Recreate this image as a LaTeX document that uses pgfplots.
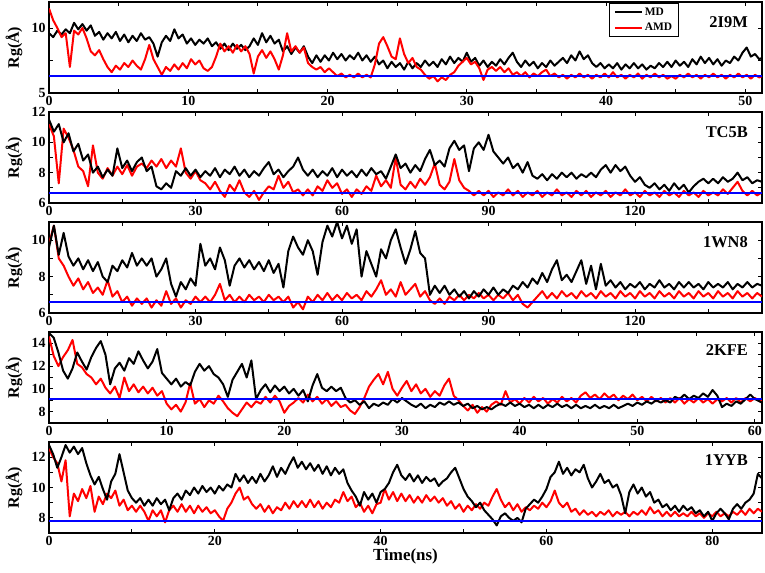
\documentclass[border=0pt]{standalone}
\usepackage{fontspec}
\setmainfont{Liberation Serif}
\usepackage{pgfplots}
\pgfplotsset{compat=1.18}
\tikzset{plab/.style={anchor=east, font=\bfseries\fontsize{16.5}{16.5}\selectfont}}
\pgfplotsset{
  panel/.style={
    scale only axis, width=713bp, height=91bp, anchor=north west,
    axis line style={line width=1.3bp},
    tick align=inside,
    major tick length=4bp, minor tick length=4bp,
    every tick/.style={line width=1bp, black},
    tick label style={font=\bfseries\fontsize{14}{14}\selectfont},
    /pgf/number format/assume math mode=true,
    ylabel={Rg(Å)},
    every axis y label/.style={at={(axis description cs:-0.049,0.5)}, rotate=90, anchor=center, font=\bfseries\fontsize{16}{16}\selectfont},
    xmin=0, minor x tick num=1,
    every axis plot/.append style={line join=round},
  },
  mdline/.style={black, line width=2bp},
  amdline/.style={red, line width=2bp},
}
\begin{document}
\begin{tikzpicture}
\useasboundingbox (0,0) rectangle (765bp,-573bp);
% ---------------- Panel 1: 2I9M
\begin{axis}[panel, at={(49bp,-2bp)}, xmax=51.2, ymin=5, ymax=12, ytick={5,10}, minor ytick={7.5}, xtick distance=10,
  legend style={at={(0.786,0.99)}, anchor=north west, draw=black, line width=0.8bp, font=\bfseries\fontsize{11.5}{11.5}\selectfont, inner xsep=4bp, inner ysep=2.5bp, row sep=2.5bp},
  legend image code/.code={\draw[#1, line width=2bp] (0bp,0bp)--(27bp,0bp);}, legend cell align=left]
\addplot[mdline] coordinates {(0,9.6)(0.3,9.3)(0.6,9.8)(0.9,9.5)(1.2,9.9)(1.5,9.6)(1.8,10.4)(2.1,9.9)(2.4,10.3)(2.7,9.8)
(3,10.2)(3.3,9.4)(3.6,9.7)(3.9,9.1)(4.2,9.6)(4.5,9.2)(4.8,9.7)(5.1,9)(5.4,9.5)(5.7,8.9)
(6,9.4)(6.3,9)(6.6,9.6)(6.9,9.1)(7.2,9.3)(7.5,8.8)(7.8,7.8)(8.1,8.9)(8.4,9.4)(8.7,9)
(9,9.9)(9.3,9.2)(9.6,9.5)(9.9,8.8)(10.2,9.2)(10.5,8.7)(10.8,9.1)(11.1,8.8)(11.4,9.2)(11.7,8.6)
(12,8.9)(12.3,8.4)(12.6,8.8)(12.9,8.3)(13.2,8.8)(13.5,8.4)(13.8,8.7)(14.1,8.3)(14.4,8.6)(14.7,9.2)
(15,8.7)(15.3,9.6)(15.6,8.9)(15.9,9.4)(16.2,8.8)(16.5,9.1)(16.8,8.2)(17.1,8.6)(17.4,8)(17.7,8.5)
(18,8.1)(18.3,8.6)(18.6,7.8)(18.9,7.3)(19.2,7.9)(19.5,7.4)(19.8,7.9)(20.1,7.5)(20.4,8.1)(20.7,7.6)
(21,8)(21.3,7.5)(21.6,7.9)(21.9,7.6)(22.2,8.1)(22.5,7.5)(22.8,7.9)(23.1,7.4)(23.4,7.8)(23.7,7.2)
(24,7.5)(24.3,6.9)(24.6,7.4)(24.9,7)(25.2,7.3)(25.5,6.8)(25.8,7.4)(26.1,6.9)(26.4,7.3)(26.7,7)
(27,7.5)(27.3,7.1)(27.6,7.4)(27.9,7)(28.2,7.6)(28.5,7.2)(28.8,7.8)(29.1,7.3)(29.4,7.7)(29.7,7.4)
(30,8.1)(30.3,7.4)(30.6,7.7)(30.9,7.1)(31.2,7.5)(31.5,7)(31.8,7.4)(32.1,7.1)(32.4,7.6)(32.7,7.2)
(33,7.7)(33.3,8.1)(33.6,7.4)(33.9,7)(34.2,7.5)(34.5,7.1)(34.8,7.4)(35.1,6.9)(35.4,7.3)(35.7,7)
(36,7.5)(36.3,7.1)(36.6,7.4)(36.9,7.7)(37.2,7.3)(37.5,7.9)(37.8,7.5)(38.1,8.2)(38.4,7.6)(38.7,7.9)
(39,7.3)(39.3,7)(39.6,7.3)(39.9,6.9)(40.2,7.2)(40.5,6.9)(40.8,7.3)(41.1,6.8)(41.4,7.2)(41.7,6.9)
(42,7.3)(42.3,6.9)(42.6,7.2)(42.9,6.8)(43.2,7.1)(43.5,6.9)(43.8,7.3)(44.1,7)(44.4,7.4)(44.7,7)
(45,7.5)(45.3,7.1)(45.6,7.4)(45.9,7)(46.2,7.6)(46.5,7.2)(46.8,7.8)(47.1,7.3)(47.4,7.7)(47.7,7.2)
(48,7.6)(48.3,7.1)(48.6,7.5)(48.9,7.3)(49.2,7.8)(49.5,7.5)(49.8,8.1)(50.1,8.5)(50.4,7.8)(50.7,8)
(51,7.6)(51.2,7.7)};
\addlegendentry{MD}
\addplot[amdline] coordinates {(0,11.5)(0.3,10.6)(0.6,10)(0.9,9.3)(1.2,9.6)(1.5,7)(1.8,9.8)(2.1,9.5)(2.4,10)(2.7,9.2)
(3,8.2)(3.3,7.9)(3.6,8.3)(3.9,7.6)(4.2,7)(4.5,6.6)(4.8,7.1)(5.1,6.8)(5.4,7.3)(5.7,7)
(6,7.5)(6.3,7.1)(6.6,6.8)(6.9,7.6)(7.2,8.7)(7.5,7.6)(7.8,7)(8.1,6.4)(8.4,7)(8.7,6.7)
(9,7.2)(9.3,6.8)(9.6,7.3)(9.9,6.9)(10.2,7.6)(10.5,7.2)(10.8,7.5)(11.1,6.9)(11.4,6.7)(11.7,7)
(12,7.8)(12.3,8.8)(12.6,8.2)(12.9,8.6)(13.2,8.1)(13.5,8.7)(13.8,8.2)(14.1,8.6)(14.4,8)(14.7,6.5)
(15,7.8)(15.3,8.3)(15.6,7.7)(15.9,8.2)(16.2,7.6)(16.5,6.8)(16.8,7.9)(17.1,9.6)(17.4,8.2)(17.7,8.6)
(18,8.1)(18.3,8.5)(18.6,7.3)(18.9,7)(19.2,6.8)(19.5,7)(19.8,6.6)(20.1,6.9)(20.4,6.6)(20.7,6.3)
(21,6.5)(21.3,6.2)(21.6,6.4)(21.9,6.2)(22.2,6.5)(22.5,6.2)(22.8,6.4)(23.1,6.2)(23.4,7.2)(23.7,8.8)
(24,9.3)(24.3,8.6)(24.6,7.8)(24.9,7.6)(25.2,9.2)(25.5,8)(25.8,7.3)(26.1,7.7)(26.4,7)(26.7,6.8)
(27,6.4)(27.3,6.1)(27.6,6.3)(27.9,5.9)(28.2,6.2)(28.5,6)(28.8,6.4)(29.1,6.6)(29.4,7.1)(29.7,7.4)
(30,7.7)(30.3,7.2)(30.6,7.4)(30.9,6.9)(31.2,6)(31.5,6.8)(31.8,7)(32.1,6.7)(32.4,7)(32.7,6.6)
(33,6.9)(33.3,6.4)(33.6,6.6)(33.9,6.3)(34.2,6.6)(34.5,6.2)(34.8,6.5)(35.1,6.3)(35.4,6.6)(35.7,6.8)
(36,6.3)(36.3,6.5)(36.6,6.2)(36.9,6.4)(37.2,6.1)(37.5,6.4)(37.8,6.2)(38.1,6.5)(38.4,6.2)(38.7,6.4)
(39,6.1)(39.3,6.4)(39.6,6.2)(39.9,6.5)(40.2,6.2)(40.5,6.6)(40.8,6.2)(41.1,6.4)(41.4,6.1)(41.7,6.4)
(42,6.2)(42.3,6.5)(42.6,6.1)(42.9,6.4)(43.2,6.2)(43.5,6.5)(43.8,6.2)(44.1,6.4)(44.4,6.1)(44.7,6.3)
(45,6.1)(45.3,6.4)(45.6,6.2)(45.9,6.5)(46.2,6.2)(46.5,6.4)(46.8,6.1)(47.1,6.4)(47.4,6.2)(47.7,6.5)
(48,6.2)(48.3,6.4)(48.6,6.1)(48.9,6.4)(49.2,6.2)(49.5,6.5)(49.8,6.2)(50.1,6.4)(50.4,6.1)(50.7,6.4)
(51,6.2)(51.2,6.3)};
\addlegendentry{AMD}
\addplot[blue, line width=1.6bp, forget plot] coordinates {(0,6.3)(51.2,6.3)};
\node[plab] at (rel axis cs:0.985,0.78) {2I9M};
\end{axis}
% ---------------- Panel 2: TC5B
\begin{axis}[panel, at={(49bp,-112bp)}, xmax=146, ymin=6, ymax=12, ytick={6,8,10,12}, minor ytick={7,9,11}, xtick distance=30]
\addplot[amdline] coordinates {(0,11.2)(1,10.4)(2,7.3)(3,10.9)(4,10.3)(5,9.5)(6,8.4)(7,8.1)(8,7.1)(9,9.8)
(10,8)(11,7.6)(12,8.3)(13,7.8)(14,8.4)(15,7.9)(16,8.5)(17,7.8)(18,8.4)(19,8.6)
(20,8.3)(21,8.8)(22,8.4)(23,8.9)(24,8.3)(25,8.8)(26,8.4)(27,9.6)(28,8)(29,7.6)
(30,8.1)(31,7.5)(32,7.3)(33,6.9)(34,7.4)(35,6.8)(36,6.4)(37,7.2)(38,6.8)(39,7.5)
(40,6.7)(41,6.4)(42,6.8)(43,6.2)(44,6.7)(45,7.1)(46,6.9)(47,7.8)(48,7)(49,7.4)
(50,6.7)(51,6.9)(52,6.5)(53,6.9)(54,6.5)(55,7.1)(56,6.8)(57,7.5)(58,7)(59,7.3)
(60,6.6)(61,6.9)(62,6.4)(63,6.9)(64,6.6)(65,7.1)(66,6.8)(67,7.8)(68,7.1)(69,7.5)
(70,7)(71,9)(72,7.2)(73,6.9)(74,7.4)(75,7)(76,7.6)(77,7.2)(78,7.7)(79,8.6)
(80,7.2)(81,6.9)(82,7.4)(83,8.9)(84,7.5)(85,7)(86,6.8)(87,6.5)(88,6.8)(89,6.5)
(90,6.8)(91,6.4)(92,6.7)(93,6.5)(94,6.9)(95,6.5)(96,6.8)(97,6.4)(98,6.7)(99,6.5)
(100,6.8)(101,6.4)(102,6.7)(103,6.5)(104,6.9)(105,6.5)(106,6.7)(107,6.4)(108,6.8)(109,6.5)
(110,6.8)(111,6.4)(112,6.7)(113,6.5)(114,6.8)(115,6.4)(116,6.7)(117,6.5)(118,6.9)(119,6.5)
(120,6.7)(121,6.4)(122,6.8)(123,6.5)(124,6.7)(125,6.4)(126,6.8)(127,6.5)(128,6.7)(129,6.4)
(130,6.8)(131,6.5)(132,6.7)(133,6.4)(134,6.8)(135,6.5)(136,6.7)(137,6.5)(138,6.9)(139,6.6)
(140,7)(141,7.4)(142,6.8)(143,6.5)(144,6.8)(145,6.5)(146,6.7)};
\addplot[mdline] coordinates {(0,11.5)(1,10.7)(2,11.2)(3,10)(4,10.6)(5,9.4)(6,9.9)(7,8.8)(8,9.2)(9,8)
(10,8.4)(11,7.7)(12,8.2)(13,7.8)(14,9.6)(15,8.3)(16,8.8)(17,8.1)(18,8.7)(19,9)
(20,8.1)(21,8.4)(22,7.1)(23,6.9)(24,7.3)(25,7)(26,8.1)(27,7.8)(28,8.3)(29,7.8)
(30,8.2)(31,7.7)(32,8.1)(33,7.8)(34,8.3)(35,7.7)(36,8.2)(37,7.9)(38,8.4)(39,7.8)
(40,8.2)(41,7.7)(42,8.1)(43,7.8)(44,8.3)(45,8.7)(46,7.9)(47,8.2)(48,7.7)(49,8.1)
(50,8.4)(51,9)(52,8.2)(53,7.8)(54,8.2)(55,7.7)(56,8.1)(57,7.8)(58,8.3)(59,7.7)
(60,8.2)(61,7.8)(62,8.1)(63,7.7)(64,8.2)(65,7.8)(66,8.3)(67,7.9)(68,8.1)(69,7.6)
(70,8.4)(71,9.2)(72,8.3)(73,8.6)(74,8)(75,8.5)(76,8.1)(77,8.9)(78,9.5)(79,8.5)
(80,8.8)(81,8.4)(82,9.6)(83,10.1)(84,9.5)(85,9.8)(86,8.1)(87,9.6)(88,10)(89,9.5)
(90,10.5)(91,9.4)(92,9)(93,8.6)(94,9)(95,8.3)(96,8.6)(97,8)(98,8.7)(99,7.8)
(100,7.6)(101,7.9)(102,7.5)(103,7.9)(104,7.6)(105,8)(106,7.7)(107,8)(108,7.6)(109,7.9)
(110,7.7)(111,8)(112,7.7)(113,8.2)(114,8.5)(115,8)(116,8.5)(117,8.1)(118,8.4)(119,7.8)
(120,7.4)(121,7.7)(122,7.2)(123,7)(124,7.3)(125,6.9)(126,7.2)(127,6.8)(128,7.3)(129,6.9)
(130,7.2)(131,6.7)(132,7.1)(133,7.4)(134,7.6)(135,7.3)(136,7.6)(137,7.3)(138,7.7)(139,7.4)
(140,7.6)(141,8)(142,7.5)(143,7.7)(144,7.3)(145,7.5)(146,7.4)};
\addplot[blue, line width=1.6bp, forget plot] coordinates {(0,6.65)(73,6.65)(146,6.65)};
\node[plab] at (rel axis cs:0.985,0.78) {TC5B};
\end{axis}
% ---------------- Panel 3: 1WN8
\begin{axis}[panel, at={(49bp,-222bp)}, xmax=146, ymin=6, ymax=11, ytick={6,8,10}, minor ytick={7,9}, xtick distance=30]
\addplot[amdline] coordinates {(0,9.8)(1,10.8)(2,9)(3,8.6)(4,8)(5,7.5)(6,7.9)(7,7.3)(8,7.7)(9,7.1)
(10,7.4)(11,7)(12,7.8)(13,6.9)(14,7.2)(15,6.6)(16,6.9)(17,6.4)(18,6.8)(19,6.5)
(20,6.8)(21,6.3)(22,6.7)(23,6.4)(24,7.2)(25,6.5)(26,6.8)(27,6.3)(28,6.7)(29,6.5)
(30,6.9)(31,6.6)(32,6.9)(33,6.6)(34,7)(35,7.6)(36,6.7)(37,7)(38,6.6)(39,6.9)
(40,6.6)(41,7)(42,6.7)(43,6.9)(44,6.6)(45,7)(46,6.7)(47,6.9)(48,6.6)(49,6.9)
(50,6.3)(51,6.6)(52,6.2)(53,6.9)(54,6.6)(55,7)(56,6.7)(57,7.1)(58,6.7)(59,7)
(60,6.7)(61,7.1)(62,6.8)(63,7)(64,6.7)(65,7.2)(66,6.9)(67,7.3)(68,7.8)(69,7)
(70,7.3)(71,6.9)(72,7.7)(73,7)(74,7.3)(75,7.6)(76,6.9)(77,7.2)(78,6.7)(79,6.5)
(80,6.8)(81,6.5)(82,6.9)(83,6.7)(84,7)(85,6.7)(86,7)(87,6.8)(88,7.1)(89,6.8)
(90,7)(91,6.7)(92,7)(93,6.8)(94,7.1)(95,6.7)(96,7)(97,6.5)(98,6.3)(99,6.6)
(100,6.9)(101,7.2)(102,6.8)(103,7.1)(104,6.8)(105,7.2)(106,6.9)(107,7.1)(108,6.8)(109,7.2)
(110,6.9)(111,7.1)(112,6.8)(113,7.2)(114,6.9)(115,7.1)(116,6.8)(117,7.2)(118,6.9)(119,7.1)
(120,6.8)(121,7.2)(122,6.9)(123,7.1)(124,6.8)(125,7.2)(126,6.9)(127,7.1)(128,6.8)(129,7.2)
(130,6.9)(131,7.1)(132,6.8)(133,7.2)(134,6.9)(135,7.1)(136,6.8)(137,7.2)(138,6.9)(139,7.1)
(140,6.8)(141,7.2)(142,6.9)(143,7.1)(144,6.8)(145,7.1)(146,6.9)};
\addplot[mdline] coordinates {(0,9.6)(1,10.8)(2,9.2)(3,10.4)(4,9.1)(5,8.6)(6,9)(7,8.4)(8,8.9)(9,8.3)
(10,8.8)(11,8)(12,7.7)(13,8.6)(14,8.3)(15,8.9)(16,8.5)(17,9.3)(18,8.6)(19,9)
(20,8.6)(21,9)(22,8)(23,8.4)(24,9)(25,7.6)(26,6.9)(27,7.7)(28,7.3)(29,7.9)
(30,7.5)(31,9.8)(32,8.6)(33,9)(34,8.4)(35,9.6)(36,8.9)(37,7.5)(38,8.6)(39,9)
(40,8.5)(41,8.9)(42,8.4)(43,8.8)(44,8.3)(45,8.9)(46,8.2)(47,8.7)(48,7.4)(49,9.4)
(50,10.2)(51,9.6)(52,9.2)(53,10)(54,9.4)(55,8.1)(56,9.9)(57,10.8)(58,10.2)(59,11)
(60,10.1)(61,10.8)(62,9.8)(63,10.6)(64,8)(65,9.4)(66,8.7)(67,8)(68,9.5)(69,9)
(70,10)(71,10.6)(72,9.6)(73,8.7)(74,9.5)(75,10.5)(76,9.3)(77,9)(78,7)(79,7.5)
(80,7.1)(81,7.5)(82,7)(83,7.3)(84,6.9)(85,7.2)(86,6.8)(87,7.2)(88,6.9)(89,7.3)
(90,7)(91,7.4)(92,7)(93,7.3)(94,7.1)(95,7.5)(96,7.3)(97,7.7)(98,7.4)(99,7.9)
(100,7.6)(101,8.2)(102,7.7)(103,8.4)(104,8.9)(105,7.8)(106,8.1)(107,7.7)(108,8.3)(109,8.9)
(110,7.6)(111,8.6)(112,7.3)(113,8.7)(114,7.5)(115,7.8)(116,7.4)(117,7.7)(118,7.3)(119,7.6)
(120,7.4)(121,7.7)(122,7.3)(123,7.6)(124,7.4)(125,7.8)(126,7.4)(127,7.6)(128,7.3)(129,7.7)
(130,7.4)(131,7.7)(132,7.4)(133,7.6)(134,7.3)(135,7.7)(136,7.4)(137,7.6)(138,7.4)(139,7.7)
(140,7.3)(141,7.6)(142,7.4)(143,7.7)(144,7.4)(145,7.6)(146,7.5)};
\addplot[blue, line width=1.6bp, forget plot] coordinates {(0,6.6)(146,6.6)};
\node[plab] at (rel axis cs:0.985,0.78) {1WN8};
\end{axis}
% ---------------- Panel 4: 2KFE
\begin{axis}[panel, at={(49bp,-332bp)}, xmax=60.6, ymin=7, ymax=15, ytick={8,10,12,14}, minor ytick={7,9,11,13,15}, xtick distance=10]
\addplot[amdline] coordinates {(0,14.6)(0.4,12.9)(0.8,12)(1.2,12.8)(1.6,13.4)(2,14.3)(2.4,12.2)(2.8,11.9)(3.2,11.3)(3.6,11)
(4,10.4)(4.4,10.9)(4.8,10.1)(5.2,9.6)(5.6,10.2)(6,9.2)(6.4,11)(6.8,9.8)(7.2,10.4)(7.6,9.7)
(8,10.2)(8.4,9.6)(8.8,10.1)(9.2,9.4)(9.6,9.8)(10,8.7)(10.4,8.2)(10.8,8.6)(11.2,8)(11.6,8.8)
(12,10.5)(12.4,8.7)(12.8,9.1)(13.2,8.4)(13.6,9)(14,8.7)(14.4,9.4)(14.8,8.9)(15.2,8.3)(15.6,7.9)
(16,7.6)(16.4,8.2)(16.8,8.8)(17.2,8.4)(17.6,8.9)(18,8.7)(18.4,9.3)(18.8,8.8)(19.2,9.4)(19.6,8.9)
(20,7.9)(20.4,8.5)(20.8,8.8)(21.2,9.2)(21.6,8.8)(22,9.5)(22.4,8.9)(22.8,9.3)(23.2,8.7)(23.6,9.1)
(24,8.5)(24.4,8.9)(24.8,8.4)(25.2,8.6)(25.6,8.1)(26,7.8)(26.4,8.4)(26.8,9.2)(27.2,10.2)(27.6,10.8)
(28,11.3)(28.4,10.4)(28.8,11.5)(29.2,10)(29.6,9.4)(30,10.1)(30.4,10.7)(30.8,9.8)(31.2,10.4)(31.6,9.6)
(32,10)(32.4,9.3)(32.8,9.8)(33.2,9.4)(33.6,10.3)(34,10.9)(34.4,9.4)(34.8,9)(35.2,8.5)(35.6,8.1)
(36,8.6)(36.4,7.9)(36.8,8.4)(37.2,8)(37.6,8.6)(38,8.9)(38.4,8.6)(38.8,9.8)(39.2,8.8)(39.6,9.1)
(40,8.7)(40.4,9.2)(40.8,8.8)(41.2,9.3)(41.6,8.9)(42,9.2)(42.4,8.7)(42.8,9.1)(43.2,8.8)(43.6,9.3)
(44,8.9)(44.4,9.2)(44.8,8.8)(45.2,9.4)(45.6,9.7)(46,9.2)(46.4,9.5)(46.8,9.1)(47.2,9.6)(47.6,9.2)
(48,9.5)(48.4,9)(48.8,9.4)(49.2,9.1)(49.6,9.5)(50,9)(50.4,9.3)(50.8,8.9)(51.2,9.3)(51.6,8.9)
(52,9.2)(52.4,8.8)(52.8,9.2)(53.2,8.8)(53.6,9.2)(54,8.7)(54.4,9.1)(54.8,8.8)(55.2,9.2)(55.6,8.8)
(56,9.1)(56.4,8.7)(56.8,9.1)(57.2,8.9)(57.6,9.2)(58,8.8)(58.4,9.2)(58.8,8.8)(59.2,9.2)(59.6,8.9)
(60,9.2)(60.4,8.9)(60.6,9)};
\addplot[mdline] coordinates {(0,14.9)(0.4,14.5)(0.8,13.2)(1.2,11.6)(1.6,10.9)(2,11.8)(2.4,13.2)(2.8,12.4)(3.2,11.7)(3.6,12.8)
(4,13.6)(4.4,14.2)(4.8,13)(5.2,10.4)(5.6,11.8)(6,12.3)(6.4,11.6)(6.8,12.7)(7.2,12.2)(7.6,13.3)
(8,12.5)(8.4,11.8)(8.8,12.4)(9.2,13.5)(9.6,11.4)(10,10.9)(10.4,10.4)(10.8,10.9)(11.2,10.2)(11.6,10.6)
(12,10.3)(12.4,11.5)(12.8,12.2)(13.2,11.6)(13.6,12)(14,11.3)(14.4,11)(14.8,10.4)(15.2,9.3)(15.6,10.8)
(16,11.5)(16.4,12.2)(16.8,11)(17.2,12.5)(17.6,9.1)(18,9.9)(18.4,10.4)(18.8,9.7)(19.2,10.3)(19.6,9.8)
(20,10.2)(20.4,9.6)(20.8,10)(21.2,9.4)(21.6,9.9)(22,8.9)(22.4,10.3)(22.8,11.3)(23.2,10.1)(23.6,9.8)
(24,10.2)(24.4,9.8)(24.8,10.1)(25.2,9.2)(25.6,8.8)(26,9)(26.4,8.6)(26.8,8.9)(27.2,8.3)(27.6,8.7)
(28,8.5)(28.4,8.8)(28.8,8.6)(29.2,9.1)(29.6,8.8)(30,9.2)(30.4,8.9)(30.8,8.6)(31.2,8.4)(31.6,8.7)
(32,8.3)(32.4,8.6)(32.8,8.4)(33.2,8.8)(33.6,8.6)(34,8.9)(34.4,8.6)(34.8,8.8)(35.2,8.5)(35.6,8.7)
(36,8.3)(36.4,8.5)(36.8,8.2)(37.2,8.4)(37.6,8.2)(38,8.5)(38.4,8.7)(38.8,8.5)(39.2,8.8)(39.6,8.5)
(40,8.7)(40.4,8.4)(40.8,8.6)(41.2,8.3)(41.6,8.6)(42,8.3)(42.4,8.6)(42.8,8.4)(43.2,8.7)(43.6,8.4)
(44,8.6)(44.4,8.3)(44.8,8.6)(45.2,8.3)(45.6,8.5)(46,8.3)(46.4,8.6)(46.8,8.3)(47.2,8.5)(47.6,8.3)
(48,8.6)(48.4,8.3)(48.8,8.5)(49.2,8.7)(49.6,8.5)(50,8.8)(50.4,8.6)(50.8,8.9)(51.2,8.7)(51.6,9)
(52,8.8)(52.4,9)(52.8,8.8)(53.2,9.3)(53.6,9.1)(54,9.5)(54.4,9.1)(54.8,9.4)(55.2,9.2)(55.6,9.6)
(56,9.3)(56.4,9.9)(56.8,9.4)(57.2,8.4)(57.6,8.7)(58,8.5)(58.4,8.9)(58.8,8.7)(59.2,9.1)(59.6,9.5)
(60,9.1)(60.4,8.9)(60.6,8.8)};
\addplot[blue, line width=1.6bp, forget plot] coordinates {(0,9.1)(60.6,9.1)};
\node[plab] at (rel axis cs:0.985,0.80) {2KFE};
\end{axis}
% ---------------- Panel 5: 1YYB
\begin{axis}[panel, at={(49bp,-442bp)}, xmax=86, ymin=7, ymax=13, ytick={8,10,12}, minor ytick={7,9,11,13}, xtick distance=20,
  xlabel={Time(ns)}, every axis x label/.style={at={(axis description cs:0.5,-0.26)}, anchor=center, font=\bfseries\fontsize{17}{17}\selectfont}]
\addplot[amdline] coordinates {(0,12.6)(0.5,12)(1,11.6)(1.5,10.4)(2,11.8)(2.5,8.1)(3,9.6)(3.5,9.1)(4,9.9)(4.5,9.3)
(5,10.1)(5.5,8.4)(6,9.4)(6.5,8.9)(7,9.6)(7.5,9.3)(8,9.8)(8.5,8.8)(9,9.2)(9.5,8.5)
(10,8.8)(10.5,8.4)(11,8.8)(11.5,8.4)(12,7.8)(12.5,8.5)(13,8.1)(13.5,8.5)(14,7.7)(14.5,8.5)
(15,8.8)(15.5,8.4)(16,8.9)(16.5,8.4)(17,8.8)(17.5,8.3)(18,8.8)(18.5,8.4)(19,8.7)(19.5,8.3)
(20,8.5)(20.5,8.1)(21,7.8)(21.5,8.6)(22,9)(22.5,9.6)(23,10)(23.5,9.2)(24,9.4)(24.5,8.9)
(25,8.6)(25.5,8.9)(26,8.4)(26.5,8.8)(27,8.3)(27.5,8.7)(28,8.5)(28.5,9)(29,8.6)(29.5,9.1)
(30,8.7)(30.5,9.1)(31,8.7)(31.5,9.2)(32,8.7)(32.5,9.1)(33,8.6)(33.5,9)(34,8.7)(34.5,9.2)
(35,9)(35.5,9.7)(36,9.1)(36.5,9.4)(37,8.7)(37.5,9)(38,8.4)(38.5,8.8)(39,8.3)(39.5,8.9)
(40,9)(40.5,9.9)(41,9.2)(41.5,9.7)(42,9.1)(42.5,9.6)(43,9.1)(43.5,9.5)(44,9)(44.5,9.4)
(45,9)(45.5,9.5)(46,9.1)(46.5,9.4)(47,9)(47.5,9.3)(48,8.8)(48.5,9.1)(49,8.6)(49.5,8.9)
(50,8.4)(50.5,8.8)(51,8.5)(51.5,8.9)(52,8.6)(52.5,9)(53,8.8)(53.5,9.4)(54,9.9)(54.5,9.2)
(55,8.7)(55.5,9)(56,8.5)(56.5,8.9)(57,8.4)(57.5,8.7)(58,8.5)(58.5,8.8)(59,8.6)(59.5,9)
(60,8.7)(60.5,9.1)(61,9.8)(61.5,9)(62,8.7)(62.5,9)(63,8.4)(63.5,8.6)(64,8.2)(64.5,8.5)
(65,8.2)(65.5,8.4)(66,8.1)(66.5,8.4)(67,8.2)(67.5,8.5)(68,8.1)(68.5,8.4)(69,8.2)(69.5,8.4)
(70,8.1)(70.5,8.4)(71,8.2)(71.5,8.5)(72,8.2)(72.5,8.7)(73,8.3)(73.5,8.5)(74,8.1)(74.5,8.4)
(75,8.1)(75.5,8.4)(76,8.1)(76.5,8.3)(77,8.1)(77.5,8.4)(78,8.1)(78.5,8.3)(79,8)(79.5,8.3)
(80,8.1)(80.5,8.4)(81,8.1)(81.5,8.3)(82,8.1)(82.5,8.4)(83,8.2)(83.5,8.5)(84,8.2)(84.5,8.6)
(85,8.3)(85.5,8.6)(86,8.4)};
\addplot[mdline] coordinates {(0,12.8)(0.5,12.2)(1,11.3)(1.5,12)(2,12.8)(2.5,12.3)(3,12.7)(3.5,12.2)(4,12.6)(4.5,11.6)
(5,10.8)(5.5,10.2)(6,10.7)(6.5,9.9)(7,9.2)(7.5,10.4)(8,10.9)(8.5,12.2)(9,11)(9.5,9.8)
(10,9.3)(10.5,9)(11,9.3)(11.5,8.8)(12,9.2)(12.5,8.8)(13,9.3)(13.5,8.9)(14,9.2)(14.5,8.5)
(15,9.3)(15.5,9.6)(16,9.2)(16.5,9.8)(17,9.5)(17.5,10)(18,9.6)(18.5,10.1)(19,9.7)(19.5,10)
(20,9.6)(20.5,10.1)(21,9.8)(21.5,10.2)(22,10)(22.5,10.9)(23,10.4)(23.5,10.8)(24,10.3)(24.5,10.7)
(25,10.3)(25.5,10.9)(26,10.4)(26.5,10.8)(27,11.4)(27.5,10.7)(28,11.3)(28.5,10.9)(29,11.5)(29.5,12)
(30,11.3)(30.5,11.7)(31,11.2)(31.5,11.6)(32,11.1)(32.5,11.5)(33,10.9)(33.5,11.4)(34,10.8)(34.5,11.3)
(35,10.9)(35.5,11.2)(36,10.3)(36.5,9.8)(37,9.4)(37.5,8.8)(38,9.7)(38.5,9.2)(39,9.6)(39.5,9)
(40,9.7)(40.5,9.9)(41,10.3)(41.5,11)(42,11.5)(42.5,10.8)(43,10.5)(43.5,10.9)(44,10.4)(44.5,10.8)
(45,10.3)(45.5,10.7)(46,10.4)(46.5,10.6)(47,10.1)(47.5,10.4)(48,10.6)(48.5,11)(49,11.3)(49.5,10.6)
(50,9.9)(50.5,9.4)(51,9.1)(51.5,8.7)(52,9)(52.5,8.5)(53,8.2)(53.5,7.9)(54,7.5)(54.5,8.1)
(55,8.3)(55.5,8)(56,7.8)(56.5,8)(57,7.7)(57.5,8.6)(58,8.9)(58.5,9.2)(59,9)(59.5,9.4)
(60,9.9)(60.5,10.7)(61,11)(61.5,11.7)(62,10.9)(62.5,11.3)(63,10.8)(63.5,11.2)(64,11)(64.5,11.5)
(65,10.6)(65.5,10)(66,10.4)(66.5,10.9)(67,10.3)(67.5,10.5)(68,10)(68.5,10.2)(69,9.5)(69.5,8.3)
(70,9.7)(70.5,10.2)(71,9.6)(71.5,10)(72,9.4)(72.5,9.7)(73,9)(73.5,9.2)(74,8.7)(74.5,8.9)
(75,8.5)(75.5,8.8)(76,8.4)(76.5,8.8)(77,8.5)(77.5,8.7)(78,8.3)(78.5,8.5)(79,8.1)(79.5,8.4)
(80,7.8)(80.5,8.3)(81,8.6)(81.5,8.3)(82,7.9)(82.5,8.6)(83,8.9)(83.5,8.6)(84,9)(84.5,9.2)
(85,9.6)(85.5,10.9)(86,10.6)};
\addplot[blue, line width=1.6bp, forget plot] coordinates {(0,7.78)(86,7.78)};
\node[plab] at (rel axis cs:0.985,0.80) {1YYB};
\end{axis}
\end{tikzpicture}
\end{document}
